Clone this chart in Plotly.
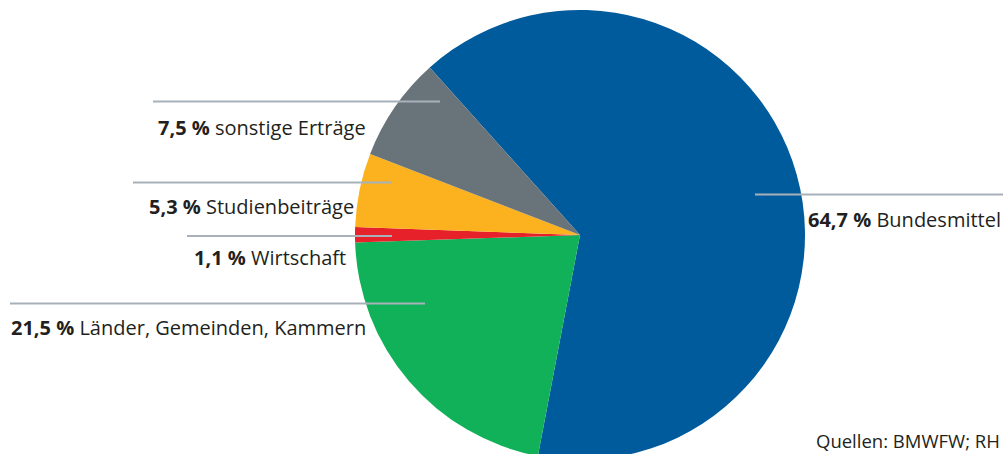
import plotly.graph_objects as go

# ---- data ----
labels = ["Bundesmittel", "Länder, Gemeinden, Kammern", "Wirtschaft", "Studienbeiträge", "sonstige Erträge"]
values = [64.7, 21.5, 1.1, 5.3, 7.5]
pct_text = ["64,7 %", "21,5 %", "1,1 %", "5,3 %", "7,5 %"]
colors = ["#005B9C", "#11B159", "#E72129", "#FBB21E", "#69737A"]
source = "Quellen: BMWFW; RH"

# figure is taller than the window so the pie is cut at the bottom, as in the reference
W, H = 1003, 460

def px(x):
    return x / W

def py(y):
    return 1 - y / H

cx, top, r = 580, 10, 225

fig = go.Figure(go.Pie(
    labels=labels,
    values=values,
    sort=False,
    direction="clockwise",
    rotation=-41.9,
    marker=dict(colors=colors, line=dict(width=0)),
    textinfo="none",
    hoverinfo="label+percent",
    showlegend=False,
    domain=dict(x=[px(cx - r), px(cx + r)], y=[0, py(top)]),
))

# leader lines (pixel positions) and label placement
# (label index, line x0, line x1, line y, text x, text y, anchor)
layout_spec = [
    (4, 153, 440, 101.5, 368, 127, "right"),
    (3, 133, 392, 182.5, 356, 206, "right"),
    (2, 187, 392, 236, 348, 257, "right"),
    (1, 10, 425, 303.5, 368, 327, "right"),
    (0, 755, 1003, 194.5, 806, 219, "left"),
]

shapes = []
annotations = []
for i, x0, x1, yl, tx, ty, anc in layout_spec:
    shapes.append(dict(type="line", xref="paper", yref="paper",
                       x0=px(x0), x1=px(x1), y0=py(yl), y1=py(yl),
                       line=dict(color="#A8B1BA", width=2)))
    annotations.append(dict(xref="paper", yref="paper", x=px(tx), y=py(ty),
                            xanchor=anc, yanchor="middle", showarrow=False,
                            text=f"<b>{pct_text[i]}</b> {labels[i]}",
                            font=dict(family="Open Sans", size=20, color="#231F20")))

annotations.append(dict(xref="paper", yref="paper", x=px(1002), y=py(440),
                        xanchor="right", yanchor="middle", showarrow=False,
                        text=source,
                        font=dict(family="Open Sans", size=18.5, color="#231F20")))

fig.update_layout(
    width=W, height=H,
    margin=dict(l=0, r=0, t=0, b=0),
    paper_bgcolor="white",
    plot_bgcolor="white",
    shapes=shapes,
    annotations=annotations,
)

# remove the default page margin and scrollbars so the figure fills the window
fig.write_html(
    "out.html",
    config={"displayModeBar": False},
    post_script="document.body.style.margin='0px'; document.documentElement.style.overflow='hidden'; document.body.style.overflow='hidden';",
)
